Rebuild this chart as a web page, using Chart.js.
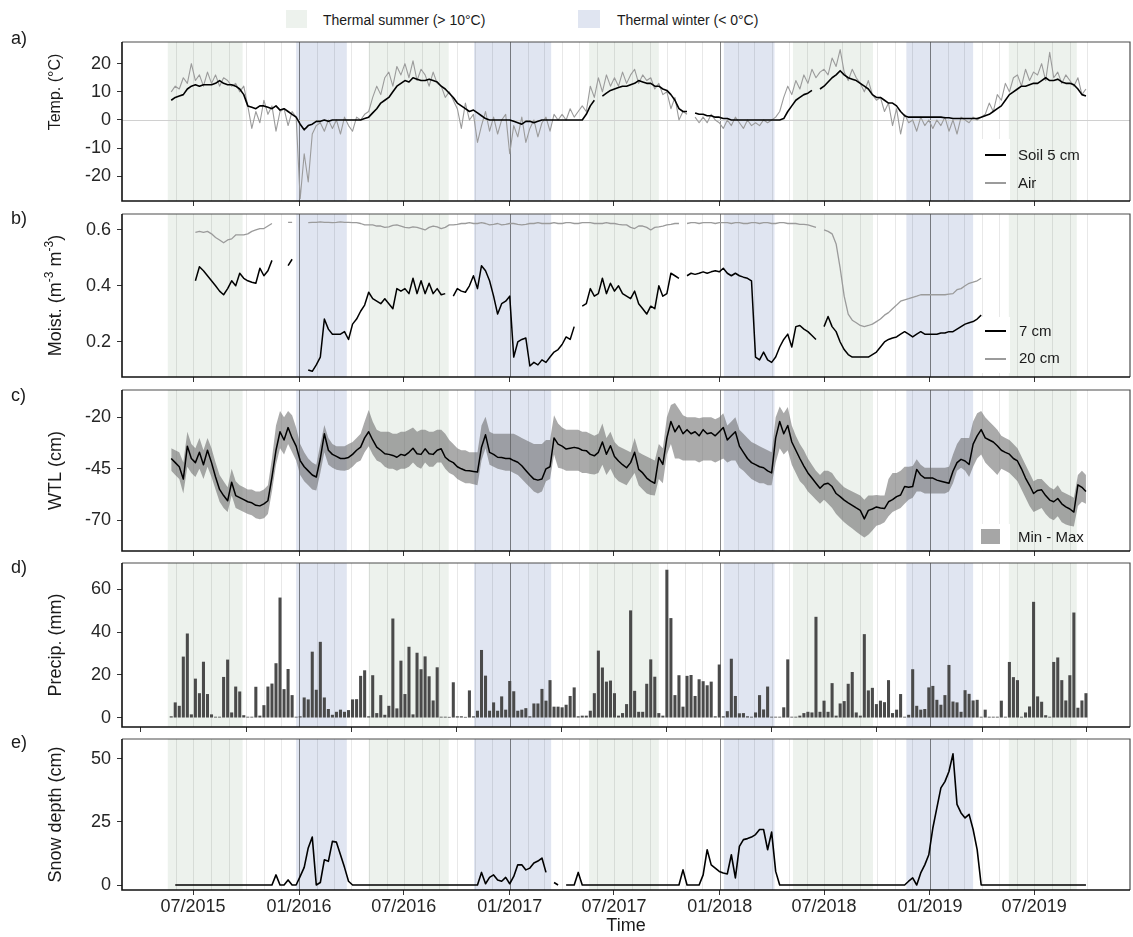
<!DOCTYPE html>
<html>
<head>
<meta charset="utf-8">
<title>Peatland monitoring 2015-2019</title>
<script src="https://cdn.jsdelivr.net/npm/chart.js@4.4.1/dist/chart.umd.min.js"></script>
<style>
  body { margin: 0; background: #fff; font-family: "Liberation Sans", Arial, sans-serif; }
  #wrap { position: relative; width: 1133px; height: 937px; overflow: hidden; }
  #wrap canvas { position: absolute; left: 0; }
  .txt { position: absolute; white-space: nowrap; color: #1a1a1a; z-index: 5; }
  .box { position: absolute; z-index: 4; }
</style>
</head>
<body>
<div id="wrap">
  <!-- season legend -->
  <div class="box" style="left:286px;top:10px;width:21px;height:18px;background:#edf2ed"></div>
  <div class="txt" style="left:323px;top:11px;font-size:14px;line-height:18px">Thermal summer (&gt; 10°C)</div>
  <div class="box" style="left:578px;top:10px;width:22px;height:18px;background:#e0e5f1"></div>
  <div class="txt" style="left:617px;top:11px;font-size:14px;line-height:18px">Thermal winter (&lt; 0°C)</div>

  <!-- panel letters -->
  <div class="txt" style="left:11px;top:28px;font-size:18px;line-height:20px">a)</div>
  <div class="txt" style="left:11px;top:208px;font-size:18px;line-height:20px">b)</div>
  <div class="txt" style="left:11px;top:385px;font-size:18px;line-height:20px">c)</div>
  <div class="txt" style="left:11px;top:557px;font-size:18px;line-height:20px">d)</div>
  <div class="txt" style="left:11px;top:732px;font-size:18px;line-height:20px">e)</div>

  <!-- panel a legend -->
  <div class="box" style="left:980px;top:139px;width:30px;height:61px;background:#fff"></div>
  <div class="box" style="left:985px;top:154px;width:21px;height:2px;background:#000"></div>
  <div class="box" style="left:985px;top:182px;width:21px;height:1.5px;background:#9b9b9b"></div>
  <div class="txt" style="left:1018px;top:146px;font-size:15px;line-height:18px">Soil 5 cm</div>
  <div class="txt" style="left:1018px;top:174px;font-size:15px;line-height:18px">Air</div>

  <!-- panel b legend -->
  <div class="box" style="left:980px;top:317px;width:30px;height:56px;background:#fff"></div>
  <div class="box" style="left:985px;top:330px;width:21px;height:2px;background:#000"></div>
  <div class="box" style="left:985px;top:358px;width:21px;height:1.5px;background:#9b9b9b"></div>
  <div class="txt" style="left:1019px;top:322px;font-size:15px;line-height:18px">7 cm</div>
  <div class="txt" style="left:1019px;top:349px;font-size:15px;line-height:18px">20 cm</div>

  <!-- panel c legend -->
  <div class="box" style="left:980px;top:524px;width:30px;height:26px;background:#fff"></div>
  <div class="box" style="left:981px;top:529px;width:19px;height:15px;background:#a6a6a6"></div>
  <div class="txt" style="left:1018px;top:528px;font-size:15px;line-height:18px">Min - Max</div>
</div>

<script>
// ---------------- Data ----------------
// every weekly series starts on this date, one value per 7 days (228 weeks)
const weekStart = "2015-05-24";

const tickDates  = ["2015-07-01", "2016-01-01", "2016-07-01", "2017-01-01", "2017-07-01",
                    "2018-01-01", "2018-07-01", "2019-01-01", "2019-07-01"];
const tickLabels = ["07/2015", "01/2016", "07/2016", "01/2017", "07/2017",
                    "01/2018", "07/2018", "01/2019", "07/2019"];
const yearLines = ["2016-01-01", "2017-01-01", "2018-01-01", "2019-01-01"];
const monthLineRange = ["2015-06-01", "2019-10-01"];

const summerPeriods = [["2015-05-18", "2015-09-25"], ["2016-05-01", "2016-09-17"], ["2017-05-19", "2017-09-17"],
                       ["2018-05-08", "2018-09-24"], ["2019-05-18", "2019-09-13"]];
const winterPeriods = [["2015-12-27", "2016-03-24"], ["2016-10-31", "2017-03-14"], ["2018-01-08", "2018-04-06"],
                       ["2018-11-21", "2019-03-17"]];

const tempTicks = [-20, -10, 0, 10, 20];
const moistTicks = [0.2, 0.4, 0.6];
const wtlTicks = [-70, -45, -20];
const precipTicks = [0, 20, 40, 60];
const snowTicks = [0, 25, 50];

// a) temperature (°C)
const soilTemp = [
  7, 8, 8.5, 9, 11, 12, 12.5, 12, 12.5, 12.5,
  12.5, 13, 14, 13, 12.5, 12.5, 12, 11, 9, 5,
  4.5, 4, 5, 5, 4.5, 4, 5, 3.5, 4, 3,
  2, 1, -1.5, -3.5, -2, -1.5, -0.5, -0.5, 0, -0.5,
  0, 0, 0, 0, 0, 0, 0, 0, 0.5, 1,
  2.5, 4, 6, 7, 8, 10, 12, 13, 14, 13.5,
  15, 14.5, 14, 14, 14.5, 14, 13.5, 12, 11, 9.5,
  8, 6, 5, 4, 3, 3.5, 2.5, 1.5, 0.5, 0,
  0, 0, 0, 0, 0, -0.5, -1, -1.5, -0.5, -0.5,
  -1, -0.5, 0, 0, 0, 0, 0, 0, 0, 0,
  0, 0, 0, 2, 5, 7, null, 8.5, 9.5, 10.5,
  11, 11.5, 12, 12, 12.5, 13, 14, 13.5, 13, 13,
  12, 12, 11, 10.5, 9, 7, 4, 3, 3, null,
  2.5, 2, 2, 1.5, 1.5, 1, 1, 0.5, 0.5, 0,
  0, 0, 0, 0, 0, 0, 0, 0, 0, 0,
  0, 0, 0.5, 3, 5, 7, 8, 9, 9.5, 10.5,
  null, 11, 12, 13.5, 15, 16, 17.5, 16, 15, 14.5,
  14, 13, 12, 11, 9, 8, 8, 7, 6, 6,
  5, 3, 1.5, 1, 1, 1, 1, 1, 1, 1,
  1, 1, 0.8, 0.8, 0.5, 0.5, 0.5, 0.5, 0.5, 0.5,
  0.5, 1, 1.5, 2, 3, 4, 5, 7, 9, 10,
  11, 12, 12, 12.5, 13, 13, 14, 15, 14, 14,
  14.5, 13.5, 13, 13, 12.5, 11, 9, 8.5
];
const airTemp = [
  10, 12, 11, 15, 13, 20, 14, 16, 12, 17,
  13, 16, 12, 15, 14, 12, 13, 10, 12, 5,
  -3, 3, -1, 7, 2, 5, -4, 3, 4, -2,
  3, 1, -28, -12, -22, -5, -2, -1, -4, 0,
  -3, 0, -5, 1, -2, -4, 1, 0, 2, 3,
  8, 12, 9, 15, 17, 12, 19, 16, 20, 15,
  21, 14, 18, 16, 12, 17, 13, 12, 8, 10,
  7, 4, -3, 6, 0, 2, -8, -2, 3, -4,
  1, -5, 0, 2, -12, -2, -6, 1, -8, -3,
  0, -6, -1, 1, -4, 2, 0, 2, 0, 4,
  1, 3, 5, 3, 12, 8, 15, 10, 16, 12,
  15, 12, 17, 13, 16, 18, 13, 16, 14, 15,
  11, 13, 9, 10, 4, 8, 0, 3, 2, null,
  1, -1, 1, -1, 2, 0, -1, -3, 0, -2,
  1, -1, -3, 0, -2, -1, -2, 0, -1, 0,
  1, 3, 8, 12, 9, 14, 11, 16, 13, 18,
  15, 17, 18, 16, 22, 19, 25, 17, 14, 18,
  15, 13, 10, 14, 9, 7, 8, 3, 6, -2,
  4, -5, 2, -1, 0, -4, 1, -2, 0, -3,
  0, -2, 1, -4, 0, -5, 1, 0, -1, 1,
  0, 1, 2, 6, 3, 9, 7, 13, 10, 15,
  16, 12, 18, 14, 17, 16, 20, 14, 24, 15,
  17, 13, 16, 14, 12, 15, 9, 11
];

// b) soil moisture (m-3 m-3)
const moist7 = [
  null, null, null, null, null, null, 0.418, 0.468, 0.454, 0.436,
  0.418, 0.40, 0.381, 0.368, 0.39, 0.418, 0.40, 0.445, 0.427, 0.418,
  0.413, 0.409, 0.463, 0.436, 0.454, 0.491, null, null, null, 0.472,
  0.495, null, null, null, 0.099, 0.094, 0.117, 0.145, 0.281, 0.245,
  0.227, 0.227, 0.227, 0.236, 0.208, 0.263, 0.281, 0.309, 0.331, 0.377,
  0.354, 0.345, 0.336, 0.354, 0.336, 0.318, 0.39, 0.381, 0.39, 0.372,
  0.427, 0.372, 0.418, 0.372, 0.409, 0.372, 0.39, 0.368, 0.372, null,
  0.363, 0.39, 0.381, 0.377, 0.40, 0.436, 0.39, 0.472, 0.454, 0.418,
  0.363, 0.299, 0.336, 0.345, 0.363, 0.145, 0.199, 0.208, 0.213, 0.113,
  0.126, 0.117, 0.135, 0.126, 0.145, 0.163, 0.172, 0.19, 0.217, 0.208,
  0.254, null, 0.327, 0.336, 0.39, 0.363, 0.372, 0.427, 0.372, 0.409,
  0.381, 0.40, 0.372, 0.363, 0.354, 0.381, 0.336, 0.318, 0.299, 0.327,
  0.318, 0.40, 0.363, 0.372, 0.445, 0.436, 0.427, null, 0.436, 0.445,
  0.441, 0.445, 0.45, 0.445, 0.45, 0.454, 0.45, 0.463, 0.445, 0.436,
  0.445, 0.436, 0.431, 0.427, 0.418, 0.145, 0.135, 0.163, 0.135, 0.126,
  0.145, 0.181, 0.208, 0.227, 0.181, 0.254, 0.258, 0.245, 0.236, 0.222,
  0.208, null, 0.254, 0.29, 0.254, 0.236, 0.199, 0.172, 0.154, 0.145,
  0.145, 0.145, 0.145, 0.145, 0.154, 0.163, 0.181, 0.199, 0.208, 0.213,
  0.217, 0.227, 0.236, 0.227, 0.217, 0.227, 0.236, 0.227, 0.227, 0.227,
  0.227, 0.231, 0.231, 0.236, 0.236, 0.245, 0.254, 0.263, 0.268, 0.272,
  0.281, 0.295, null, null, null, null, null, null, null, null,
  null, null, null, null, null, null, null, null, null, null,
  null, null, null, null, null, null, null, null
];
const moist20 = [
  null, null, null, null, null, null, 0.591, 0.595, 0.591, 0.595,
  0.586, 0.573, 0.564, 0.554, 0.564, 0.568, 0.582, 0.582, 0.582, 0.586,
  0.595, 0.6, 0.605, 0.605, 0.614, 0.623, null, null, null, 0.627,
  0.627, null, null, null, 0.626, 0.627, 0.627, 0.629, 0.627, 0.627,
  0.626, 0.627, 0.629, 0.627, 0.627, 0.626, 0.626, 0.623, 0.618, 0.618,
  0.618, 0.614, 0.614, 0.609, 0.611, 0.616, 0.618, 0.614, 0.609, 0.607,
  0.611, 0.609, 0.605, 0.6, 0.609, 0.614, 0.611, 0.605, 0.609, 0.618,
  0.618, 0.62, 0.623, 0.623, 0.626, 0.623, 0.623, 0.626, 0.623, 0.618,
  0.62, 0.623, 0.618, 0.62, 0.623, 0.623, 0.62, 0.618, 0.62, 0.623,
  0.623, 0.626, 0.623, 0.623, 0.623, 0.626, 0.623, 0.623, 0.626, 0.626,
  0.623, 0.623, 0.626, 0.626, 0.626, 0.623, 0.623, 0.623, 0.626, 0.623,
  0.623, 0.62, 0.618, 0.618, 0.609, 0.605, 0.614, 0.614, 0.609, 0.6,
  0.609, 0.611, 0.614, 0.618, 0.62, 0.623, 0.623, null, 0.623, 0.626,
  0.626, 0.623, 0.626, 0.626, 0.626, 0.623, 0.626, 0.626, 0.626, 0.623,
  0.626, 0.626, 0.623, 0.623, 0.626, 0.626, 0.623, 0.626, 0.626, 0.623,
  0.623, 0.626, 0.626, 0.623, 0.623, 0.623, 0.62, 0.62, 0.618, 0.614,
  0.609, null, 0.6, 0.595, 0.586, 0.55, 0.463, 0.363, 0.299, 0.277,
  0.268, 0.258, 0.254, 0.258, 0.263, 0.272, 0.281, 0.295, 0.304, 0.318,
  0.331, 0.345, 0.35, 0.354, 0.359, 0.363, 0.368, 0.368, 0.368, 0.368,
  0.368, 0.368, 0.368, 0.37, 0.372, 0.386, 0.39, 0.4, 0.409, 0.413,
  0.418, 0.427, null, null, null, null, null, null, null, null,
  null, null, null, null, null, null, null, null, null, null,
  null, null, null, null, null, null, null, null
];

// c) water table level (cm): mean and min/max of the wells
const wtl = [
  -40, -42, -44, -50, -34, -40, -42, -37, -43, -36,
  -42, -49, -55, -58, -60.5, -51.5, -58, -59, -60, -61,
  -61.5, -62.7, -63, -62, -60.5, -49, -36, -27, -31, -25,
  -30, -34, -41, -44, -46, -48, -49, -40, -28, -36,
  -38, -39, -40, -40, -39.5, -38, -36, -34.5, -30, -27,
  -31, -34.5, -36, -37.7, -38, -38.5, -39.4, -38, -38.5, -37,
  -35, -37.7, -38, -35.3, -37.7, -38, -36, -35.3, -39.4, -41,
  -42, -44, -45, -45.8, -46, -46.3, -46.6, -34.5, -28.5, -37,
  -38, -39.4, -39.5, -40, -40, -41, -41.8, -43.5, -45.8, -48,
  -50, -50.5, -50, -45, -44, -30, -33, -34, -35.4, -35,
  -34.6, -35, -36, -36.2, -38, -38.7, -37, -32, -37.9, -33.8,
  -39, -41.2, -43, -44.5, -42, -37, -45.3, -47, -49.5, -51,
  -52, -39.5, -42.9, -30, -22, -27, -24, -28, -26, -28,
  -27, -29, -26, -28, -27.5, -29, -27, -25, -31, -29,
  -27, -34, -37, -40, -42, -43, -44, -44.5, -46, -47,
  -30, -22, -28, -24, -32, -36, -40, -43.7, -47, -49.5,
  -52, -54.4, -52.5, -52, -53.6, -57, -58.5, -60.2, -61.5, -62.7,
  -64, -65.2, -69.3, -65.2, -64.5, -63.5, -64, -64.3, -61, -60,
  -58.5, -57.7, -53.6, -54, -53.6, -45.3, -48, -49.5, -49.5, -49.5,
  -50.5, -51, -51.5, -52, -46.2, -42, -40.4, -41.2, -42.9, -33,
  -29, -26, -30, -31, -32, -33.8, -36, -37, -37.9, -40,
  -41.2, -45, -49.5, -53, -57, -55.5, -55.2, -58, -60.2, -61,
  -59.4, -62, -63.5, -64.5, -66, -52.8, -54, -56
];
const wtlMax = [
  -35, -36, -37, -42, -27, -33, -35, -30, -36, -30,
  -35, -42, -48, -51, -54, -45, -51, -53, -54, -55,
  -55, -56, -56, -55, -53, -40, -24, -17, -20, -17,
  -19, -25, -33, -37, -40, -42, -43, -33, -23.7, -30,
  -33, -34, -34, -34, -33, -32, -30, -28, -22, -16.5,
  -22, -26, -27, -27, -27, -28, -28, -27, -27, -26,
  -25, -27, -26, -26, -27, -27, -26, -26, -28, -31,
  -33, -35, -36, -36, -37, -37, -37, -24, -19.7, -27,
  -28, -28, -28, -28, -28, -28, -29, -30, -31, -32,
  -33, -33, -33, -31, -31, -19, -23, -25, -26, -26,
  -26, -26, -27, -27, -28, -29, -28, -23, -30, -27,
  -32, -34, -35, -36, -37, -30, -37, -38, -39, -40,
  -41, -33, -35, -20, -14, -13, -16, -19, -20, -20,
  -20, -20.5, -20, -20, -20, -21, -20, -18, -24, -22,
  -20, -26, -28, -30, -32, -33, -34, -35, -36, -37,
  -20, -14.7, -18, -15, -24, -29, -33, -36, -40, -43,
  -46, -48, -46, -46, -47, -50, -52, -54, -55, -56,
  -57, -58, -60, -58, -58, -57.7, -58, -58, -50, -47,
  -47, -46, -44, -44, -43.7, -40.4, -43, -44.5, -44.5, -44.5,
  -44.5, -44.5, -44.5, -44, -38, -33, -30, -30, -30, -22,
  -18, -17, -20, -22, -24, -26, -29, -30, -31, -33,
  -35, -39, -43, -47, -51, -50, -50, -52, -54, -55,
  -53, -56, -57, -58, -59, -48, -46, -48
];
const wtlMin = [
  -46, -48, -50, -57, -44, -47, -49, -45, -50, -44,
  -49, -55, -61, -64, -66, -58, -64, -65, -66, -67,
  -67.5, -69, -69.5, -69, -67, -56, -43, -35, -38, -33,
  -37, -41, -48, -51, -53, -55, -55.5, -47, -37, -43,
  -44.5, -45.5, -45.8, -46, -45.5, -44, -42, -41, -37, -34,
  -38, -41, -42, -44, -45, -45, -46, -45, -45, -44,
  -42, -44, -45, -42, -44, -44, -42, -42, -45, -47,
  -48, -50, -51, -52, -52, -52.5, -53, -41, -35, -43,
  -44, -45, -45.5, -46, -46, -47, -48, -50, -52, -54,
  -56, -57, -56, -51, -50, -38, -44.5, -45, -46, -46,
  -46, -46, -47, -47, -47.5, -47.8, -47, -43, -48, -45,
  -49, -51, -52, -53, -50, -47, -53, -55, -57, -57.7,
  -58, -50, -52, -38, -33, -40, -40, -41, -41, -41,
  -41, -42, -41, -41, -41, -42, -41, -40, -42, -41,
  -41, -44.5, -46, -48, -50, -51, -52, -52, -53, -53,
  -42, -35, -38, -36, -43, -47, -51, -53, -56, -58,
  -60, -62, -60, -62, -64, -67, -69, -71, -72.5, -74,
  -75.5, -77, -78.4, -77, -75, -72.6, -72, -71, -68, -66,
  -65, -64, -62, -60, -59, -56, -56, -57, -57, -57,
  -57, -57, -57, -56, -52, -46, -44.5, -46, -49, -44,
  -40, -38, -42, -44, -46, -48, -45, -46, -47, -49,
  -51, -55, -59, -63, -66, -65, -64, -67, -69, -70,
  -68, -71, -72, -72.6, -73, -63, -61, -62
];

// d) weekly precipitation (mm)
const precip = [
  0.5, 7, 5.4, 28.4, 39.2, 1.4, 18.1, 11.3, 26, 10.9,
  1.4, 0.3, 0.3, 18.9, 27, 2.3, 14.4, 12.1, 1, 0.3,
  0.3, 14.3, 0.8, 5.7, 14.4, 15.8, 25.3, 56, 13.2, 22.6,
  10.4, 0.3, 0.5, 9.3, 8.4, 30.7, 12.9, 35.3, 9.3, 3.9,
  1.2, 2.6, 3.6, 2.6, 3.4, 8.4, 8.5, 19.4, 22, 0.5,
  19.7, 2, 10.4, 1.2, 5.4, 46.2, 4.2, 26.5, 10.9, 33,
  1.4, 30.2, 22.5, 28.5, 19.2, 7.9, 23.4, 0.3, 0.3, 0.2,
  16.4, 0.5, 0.5, 0.2, 12.6, 0.5, 3.1, 31.5, 19.5, 3.1,
  7, 3.1, 9.8, 3.6, 17, 12.2, 3.1, 3.6, 4.3, 0.5,
  6.5, 6.5, 13.3, 7.8, 17.4, 5, 5, 4.7, 5.9, 10,
  14, 0.5, 0.8, 0.8, 3.1, 11.3, 31.2, 23.3, 16.7, 17.2,
  11.3, 0.8, 2, 6.2, 50, 12.4, 2.6, 2.6, 15.7, 27.1,
  19, 2, 0.8, 69, 46.4, 10.4, 19.7, 5, 19.4, 19.8,
  10, 17.8, 16.9, 15, 16.7, 0.5, 24.7, 0.5, 2.9, 27.4,
  10, 1.9, 2, 0.5, 0.3, 2.3, 10.4, 3.7, 14.4, 0.3,
  0.3, 0.3, 4.7, 27.1, 0.3, 0.3, 0.8, 2, 2.6, 2.3,
  47, 2.6, 7.8, 2.6, 16, 0.8, 6.5, 7.6, 15.7, 21.2,
  2.3, 0.8, 38.9, 12.6, 13.8, 6.2, 7.8, 7.1, 17.4, 2,
  3.6, 10.9, 0.3, 1.2, 22.5, 5.4, 3.6, 3.9, 14, 14.7,
  8.2, 5.9, 10.4, 24.5, 7.4, 7, 2.6, 12.7, 11, 7.9,
  8.2, 0.3, 3.6, 0.3, 0.3, 0.3, 7.8, 0.3, 25.9, 18.8,
  17.4, 0.3, 2.3, 5.1, 54, 9.8, 7.3, 1, 0.3, 25.9,
  28, 17.4, 7.9, 19.7, 49, 4.5, 7.9, 11.3
];

// e) snow depth (cm)
const snow = [
  null, 0, 0, 0, 0, 0, 0, 0, 0, 0,
  0, 0, 0, 0, 0, 0, 0, 0, 0, 0,
  0, 0, 0, 0, 0, 0, 4, 0, 0, 2,
  0, 0, 3.4, 7, 14.7, 19, 0, 1, 10, 9.4,
  17.3, 17, 12, 7, 1.5, 0, 0, 0, 0, 0,
  0, 0, 0, 0, 0, 0, 0, 0, 0, 0,
  0, 0, 0, 0, 0, 0, 0, 0, 0, 0,
  0, 0, 0, 0, 0, 0, 0, 5, 0.5, 3,
  4, 2, 1.5, 3, 0.5, 3.4, 8, 8, 6, 6.7,
  8.7, 9.5, 10.7, 5, null, 1, 0, null, 0, 0,
  0, 5, 0, 0, 0, 0, 0, 0, 0, 0,
  0, 0, 0, 0, 0, 0, 0, 0, 0, 0,
  0, 0, 0, 0, 0, 0, 0, 6, 0, 0,
  0, 0, 4, 14, 8, 6.7, 5.4, 4.8, 4.4, 12,
  2.8, 15.3, 18, 18.4, 19, 20, 22, 22, 14, 21,
  5.4, 0, 0, 0, 0, 0, 0, 0, 0, 0,
  0, 0, 0, 0, 0, 0, 0, 0, 0, 0,
  0, 0, 0, 0, 0, 0, 0, 0, 0, 0,
  0, 0, 0, 1.5, 2.8, 0, 4.8, 8, 12, 22.6,
  30.6, 38.5, 41, 45, 52, 32, 28.6, 26.6, 28, 22,
  14, 0, 0, 0, 0, 0, 0, 0, 0, 0,
  0, 0, 0, 0, 0, 0, 0, 0, 0, 0,
  0, 0, 0, 0, 0, 0, 0, 0
];

// ---------------- Helpers ----------------
const FONT = "'Liberation Sans', Arial, sans-serif";
Chart.defaults.font.family = FONT;
const SUMMER = "#edf2ed";
const WINTER = "#e0e5f1";

function dayOf(s) {
  const [y, m, d] = s.split("-").map(Number);
  return (Date.UTC(y, m - 1, d) - Date.UTC(2016, 0, 1)) / 864e5;
}
const firstWeek = dayOf(weekStart);
const weekly = arr => arr.map((v, i) => ({ x: firstWeek + 7 * i, y: v }));

const monthLines = [];
{
  let [y, m] = monthLineRange[0].split("-").map(Number);
  const [ey, em] = monthLineRange[1].split("-").map(Number);
  while (y < ey || (y === ey && m <= em)) {
    monthLines.push(dayOf(`${y}-${String(m).padStart(2, "0")}-01`));
    m++; if (m > 12) { m = 1; y++; }
  }
}

// shading, month/year lines, frame and y titles
const decor = {
  id: "decor",
  beforeDatasetsDraw(chart, args, opts) {
    const { ctx, chartArea: a, scales: { x, y } } = chart;
    ctx.save();
    ctx.beginPath();
    ctx.rect(a.left, a.top, a.right - a.left, a.bottom - a.top);
    ctx.clip();
    const band = (list, color) => {
      ctx.fillStyle = color;
      list.forEach(([s, e]) => {
        const x1 = x.getPixelForValue(dayOf(s)), x2 = x.getPixelForValue(dayOf(e));
        ctx.fillRect(x1, a.top, x2 - x1, a.bottom - a.top);
      });
    };
    band(summerPeriods, SUMMER);
    band(winterPeriods, WINTER);
    const vline = (d, color) => {
      const px = Math.round(x.getPixelForValue(d)) + 0.5;
      ctx.strokeStyle = color;
      ctx.lineWidth = 1;
      ctx.beginPath(); ctx.moveTo(px, a.top); ctx.lineTo(px, a.bottom); ctx.stroke();
    };
    monthLines.forEach(d => vline(d, "rgba(0,0,0,0.09)"));
    yearLines.forEach(s => vline(dayOf(s), "rgba(0,0,0,0.42)"));
    if (opts.zeroLine) {
      const py = Math.round(y.getPixelForValue(0)) + 0.5;
      ctx.strokeStyle = "#d0d0d0";
      ctx.beginPath(); ctx.moveTo(a.left, py); ctx.lineTo(a.right, py); ctx.stroke();
    }
    ctx.restore();
  },
  afterDraw(chart, args, opts) {
    const { ctx, chartArea: a } = chart;
    ctx.save();
    ctx.strokeStyle = "#4d4d4d"; ctx.lineWidth = 1.2;
    ctx.beginPath(); ctx.moveTo(a.left, a.top); ctx.lineTo(a.right, a.top); ctx.lineTo(a.right, a.bottom); ctx.stroke();
    ctx.strokeStyle = "#111"; ctx.lineWidth = 1.6;
    ctx.beginPath(); ctx.moveTo(a.left, a.top); ctx.lineTo(a.left, a.bottom); ctx.lineTo(a.right, a.bottom); ctx.stroke();

    // y title, pieces flagged 1 are superscripts
    const parts = opts.title || [];
    const size = opts.titleSize || 18;
    const big = `${size}px ${FONT}`, small = `12px ${FONT}`;
    const cy = opts.titleY != null ? chart.canvas.height - 0 - (chart.canvas.height - a.top) + opts.titleY : (a.top + a.bottom) / 2;
    ctx.translate(56, cy);
    ctx.rotate(-Math.PI / 2);
    ctx.fillStyle = "#1a1a1a";
    ctx.textBaseline = "middle";
    let total = 0;
    parts.forEach(([t, sup]) => { ctx.font = sup ? small : big; total += ctx.measureText(t).width; });
    let cx = -total / 2;
    parts.forEach(([t, sup]) => {
      ctx.font = sup ? small : big;
      ctx.fillText(t, cx, sup ? -6 : 0);
      cx += ctx.measureText(t).width;
    });
    ctx.restore();
  }
};

// ---------------- Panels ----------------
const X_MIN = -307.5, X_MAX = 1443.5;   // axis limits in days from 2016-01-01
const wrap = document.getElementById("wrap");

function makePanel(p) {
  const padT = 10;
  const axisH = p.last ? 937 - p.bottom : 12;
  const h = (p.bottom - p.top) + padT + axisH;
  const cv = document.createElement("canvas");
  cv.width = 1133; cv.height = h;
  cv.style.width = "1133px"; cv.style.height = h + "px";
  cv.style.top = (p.top - padT) + "px";
  wrap.insertBefore(cv, wrap.firstChild);

  return new Chart(cv, {
    type: p.type || "line",
    data: { datasets: p.datasets },
    options: {
      responsive: false,
      animation: false,
      devicePixelRatio: 1,
      events: [],
      layout: { padding: { top: padT, right: 3, left: 0, bottom: 0 } },
      plugins: {
        legend: { display: false },
        tooltip: { enabled: false },
        // titleY is an offset below the panel top
        decor: { title: p.title, zeroLine: !!p.zeroLine, titleSize: p.titleSize, titleY: p.titleY }
      },
      elements: { point: { radius: 0 }, line: { tension: 0, borderJoinStyle: "round" } },
      scales: {
        x: {
          type: "linear", min: X_MIN, max: X_MAX, offset: false, bounds: "data",
          afterBuildTicks: s => { s.ticks = tickDates.map(d => ({ value: dayOf(d) })); },
          afterFit: s => { s.height = axisH; s.paddingLeft = 0; s.paddingRight = 0; },
          ticks: {
            display: !!p.last, autoSkip: false, maxRotation: 0, padding: 1,
            color: "#262626", font: { size: 18 },
            callback: (v, i) => tickLabels[i]
          },
          grid: { display: true, drawOnChartArea: false, drawTicks: true, tickLength: 5, tickColor: "#333", lineWidth: 1 },
          border: { display: false },
          title: { display: !!p.last, text: "Time", color: "#1a1a1a", font: { size: 18 }, padding: { top: 0, bottom: 0 } }
        },
        y: {
          min: p.min, max: p.max, bounds: "data",
          afterBuildTicks: s => { s.ticks = p.ticks.map(v => ({ value: v })); },
          afterFit: s => { s.width = 122; s.paddingTop = 0; s.paddingBottom = 0; },
          ticks: {
            padding: 6, color: "#262626", font: { size: 18 },
            callback: v => p.fmt ? p.fmt(v) : String(v)
          },
          grid: { display: true, drawOnChartArea: false, drawTicks: true, tickLength: 5, tickColor: "#333", lineWidth: 1 },
          border: { display: false }
        }
      }
    },
    plugins: [decor]
  });
}

const panels = [
  {
    top: 42, bottom: 201, min: -28.8, max: 27.7, ticks: tempTicks, zeroLine: true,
    title: [["Temp. (°C)", 0]], titleSize: 16, titleY: 50,
    datasets: [
      { data: weekly(soilTemp), borderColor: "#000", borderWidth: 1.6 },
      { data: weekly(airTemp), borderColor: "#9b9b9b", borderWidth: 1.1 }
    ]
  },
  {
    top: 214, bottom: 377, min: 0.0737, max: 0.657, ticks: moistTicks, fmt: v => v.toFixed(1),
    title: [["Moist. (m", 0], ["-3", 1], [" m", 0], ["-3", 1], [")", 0]],
    datasets: [
      { data: weekly(moist7), borderColor: "#000", borderWidth: 1.5 },
      { data: weekly(moist20), borderColor: "#9b9b9b", borderWidth: 1.3 }
    ]
  },
  {
    top: 390, bottom: 551, min: -84.9, max: -6.75, ticks: wtlTicks,
    title: [["WTL (cm)", 0]],
    datasets: [
      { data: weekly(wtl), borderColor: "#000", borderWidth: 1.5 },
      { data: weekly(wtlMax), borderWidth: 0, borderColor: "rgba(0,0,0,0)", backgroundColor: "rgba(100,100,100,0.55)", fill: "+1" },
      { data: weekly(wtlMin), borderWidth: 0, borderColor: "rgba(0,0,0,0)", fill: false }
    ]
  },
  {
    type: "bar", top: 563, bottom: 727, min: -4.35, max: 72.3, ticks: precipTicks,
    title: [["Precip. (mm)", 0]],
    datasets: [
      { data: weekly(precip), backgroundColor: "#4a4a4a", borderWidth: 0, barThickness: 2.4 }
    ]
  },
  {
    top: 739, bottom: 890, min: -1.98, max: 57.9, ticks: snowTicks, last: true,
    title: [["Snow depth (cm)", 0]],
    datasets: [
      { data: weekly(snow), borderColor: "#000", borderWidth: 1.6 }
    ]
  }
];

panels.forEach(makePanel);
</script>
</body>
</html>
